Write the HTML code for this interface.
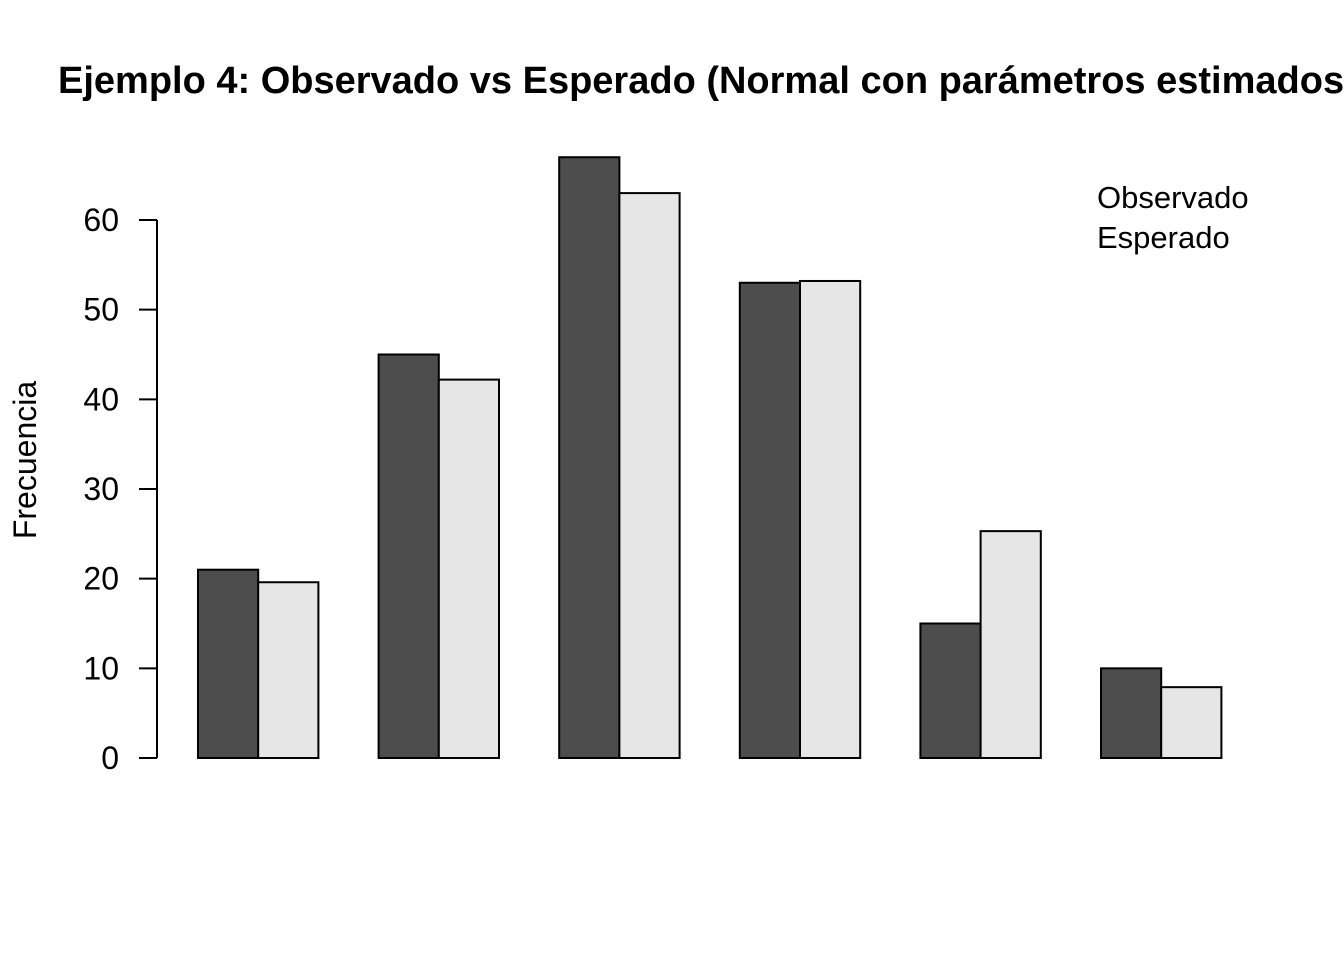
<!DOCTYPE html>
<html><head><meta charset="utf-8"><style>
body{margin:0;background:#fff;}
svg{display:block;font-family:"Liberation Sans",Arial,sans-serif;}
</style></head><body>
<svg id="chart" width="1344" height="960">
<text x="58" y="93" font-size="38" font-weight="bold">Ejemplo 4: Observado vs Esperado (Normal con parámetros estimados)</text>
<text transform="translate(36,460) rotate(-90)" text-anchor="middle" font-size="32">Frecuencia</text>
<g id="axis"></g>
<g id="bars"></g>
<text x="1097" y="208" font-size="31">Observado</text>
<text x="1097" y="248" font-size="31">Esperado</text>
</svg>
<script>
const observed=[21,45,67,53,15,10];
const expected=[19.6,42.2,63,53.2,25.3,7.9];
const ticks=[0,10,20,30,40,50,60];
const NS="http://www.w3.org/2000/svg";
const y=v=>758-v*(538/60);
const x0=i=>198+i*180.6;
const ax=document.getElementById('axis');
const line=document.createElementNS(NS,'line');
line.setAttribute('x1',157);line.setAttribute('x2',157);
line.setAttribute('y1',y(0));line.setAttribute('y2',y(60));
line.setAttribute('stroke','#000');line.setAttribute('stroke-width',2);


ax.appendChild(line);
ticks.forEach(t=>{
 const l=document.createElementNS(NS,'line');
 l.setAttribute('x1',139);l.setAttribute('x2',157);l.setAttribute('y1',y(t));l.setAttribute('y2',y(t));
 l.setAttribute('stroke','#000');l.setAttribute('stroke-width',2);
 
 
 ax.appendChild(l);
 const tx=document.createElementNS(NS,'text');
 tx.setAttribute('x',119);tx.setAttribute('y',y(t)+11);tx.setAttribute('text-anchor','end');tx.setAttribute('font-size','32');
 tx.textContent=t;
 
 
 ax.appendChild(tx);
});
const bg=document.getElementById('bars');
function bar(xp,v,fill,name){
 const r=document.createElementNS(NS,'rect');
 r.setAttribute('x',xp);r.setAttribute('y',y(v));r.setAttribute('width',60.2);r.setAttribute('height',y(0)-y(v));
 r.setAttribute('fill',fill);r.setAttribute('stroke','#000');r.setAttribute('stroke-width',2);
 
 
 bg.appendChild(r);
}
observed.forEach((v,i)=>bar(x0(i),v,'#4d4d4d','bar-observado'));
expected.forEach((v,i)=>bar(x0(i)+60.2,v,'#e6e6e6','bar-esperado'));
</script>
</body></html>
